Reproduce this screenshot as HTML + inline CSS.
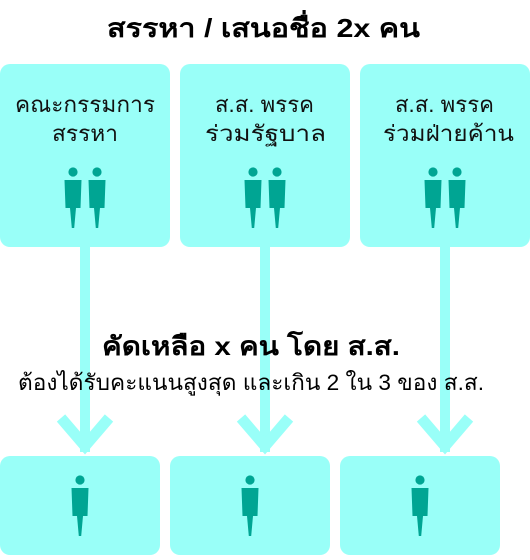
<!DOCTYPE html>
<html><head><meta charset="utf-8"><style>
body{margin:0;background:#fff}
svg text{font-family:"Liberation Sans","Noto Sans CJK SC",sans-serif}
</style></head><body>
<svg width="530" height="555" viewBox="0 0 530 555" xmlns="http://www.w3.org/2000/svg">
<defs>
<g id="p">
<circle cx="0" cy="0" r="4.6" fill="#00a593"/>
<path d="M-8.5,8 H8.5 L7.5,36 H3 L1.2,56 H-1.2 L-3,36 H-7.5 Z" fill="#00a593"/>
</g>
</defs>
<g fill="#99fff8">
<rect x="0" y="64" width="170" height="183" rx="10"/>
<rect x="180" y="64" width="170" height="183" rx="10"/>
<rect x="360" y="64" width="170" height="183" rx="10"/>
<rect x="0" y="456" width="160" height="99" rx="10"/>
<rect x="170" y="456" width="160" height="99" rx="10"/>
<rect x="340" y="456" width="160" height="99" rx="10"/>
</g>
<g stroke="#99fff8" stroke-width="10" fill="none">
<line x1="85" y1="240" x2="85" y2="452"/>
<line x1="265" y1="240" x2="265" y2="452"/>
<line x1="445" y1="240" x2="445" y2="452"/>
<polyline points="61,418 85,446 109,418" stroke-width="11"/>
<polyline points="241,418 265,446 289,418" stroke-width="11"/>
<polyline points="421,418 445,446 469,418" stroke-width="11"/>
</g>
<text x="107" y="37" font-size="26" font-weight="bold" textLength="313" lengthAdjust="spacingAndGlyphs">สรรหา / เสนอชื่อ 2x คน</text>
<g font-size="22" fill="#111" lengthAdjust="spacingAndGlyphs">
<text x="15" y="112" textLength="140" lengthAdjust="spacingAndGlyphs">คณะกรรมการ</text>
<text x="52" y="141" textLength="66" lengthAdjust="spacingAndGlyphs">สรรหา</text>
<text x="215" y="112" textLength="99" lengthAdjust="spacingAndGlyphs">ส.ส. พรรค</text>
<text x="205" y="141" textLength="121" lengthAdjust="spacingAndGlyphs">ร่วมรัฐบาล</text>
<text x="395" y="112" textLength="99" lengthAdjust="spacingAndGlyphs">ส.ส. พรรค</text>
<text x="383" y="141" textLength="131" lengthAdjust="spacingAndGlyphs">ร่วมฝ่ายค้าน</text>
</g>
<use href="#p" x="73" y="172"/><use href="#p" x="97" y="172"/>
<use href="#p" x="253" y="172"/><use href="#p" x="277" y="172"/>
<use href="#p" x="433" y="172"/><use href="#p" x="457" y="172"/>
<use href="#p" x="80" y="480"/>
<use href="#p" x="250" y="480"/>
<use href="#p" x="420" y="480"/>
<text x="102" y="355" font-size="26" font-weight="bold" textLength="298" lengthAdjust="spacingAndGlyphs">คัดเหลือ x คน โดย ส.ส.</text>
<text x="18" y="390" font-size="22" textLength="466" lengthAdjust="spacingAndGlyphs">ต้องได้รับคะแนนสูงสุด และเกิน 2 ใน 3 ของ ส.ส.</text>
</svg>
</body></html>
